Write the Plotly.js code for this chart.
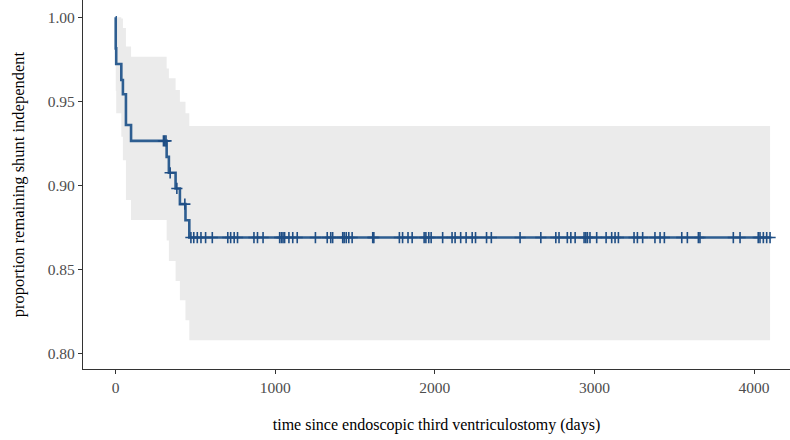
<!DOCTYPE html>
<html>
<head>
<meta charset="utf-8">
<script src="https://cdn.plot.ly/plotly-3.0.1.min.js"></script>
<style>
  html, body { margin: 0; padding: 0; background: #ffffff; }
  #chart { width: 790px; height: 440px; }
</style>
</head>
<body>
<div id="chart"></div>
<script>
// Kaplan-Meier estimate: step times (days) and survival level after each step
const stepTimes = [0, 1, 4, 36, 46, 65, 97, 320, 334, 376, 403, 438, 462, 4100];
const stepSurv  = [1.0, 0.9815, 0.9722, 0.9627, 0.9542, 0.9359, 0.9265, 0.9170, 0.9075, 0.8982, 0.8889, 0.8793, 0.8690, 0.8690];

// 95% confidence band over the same steps
const bandUpper = [1.0, 1.0, 1.0, 0.9993, 0.9937, 0.9826, 0.9765, 0.9696, 0.9637, 0.9567, 0.9498, 0.9429, 0.9353, 0.9353];
const bandLower = [1.0, 0.9563, 0.9429, 0.9289, 0.9150, 0.8913, 0.8794, 0.8673, 0.8551, 0.8432, 0.8317, 0.8198, 0.8079, 0.8079];

// censored follow-up times (days)
const censorTimes = [
  300, 308, 316, 342, 384, 434,
  472, 490, 512, 535, 564, 606, 703, 721, 743, 764, 867, 889, 924,
  1028, 1039, 1049, 1059, 1086, 1110, 1138, 1252, 1326, 1348, 1360,
  1423, 1432, 1445, 1461, 1482, 1611, 1618, 1778, 1798, 1832, 1858,
  1933, 1944, 1962, 1977, 2049, 2108, 2127, 2162, 2196, 2234, 2255,
  2324, 2354, 2534, 2664, 2758, 2778, 2830, 2852, 2879, 2935, 2946,
  2956, 2972, 3014, 3073, 3108, 3129, 3150, 3248, 3269, 3302, 3379,
  3411, 3438, 3547, 3582, 3651, 3661, 3870, 3912, 4026, 4037, 4058,
  4079, 4100
];

const xTicks = [0, 1000, 2000, 3000, 4000];
const yTicks = [0.80, 0.85, 0.90, 0.95, 1.00];

// survival level of the step curve in force at time t
function survAt(t) {
  let s = stepSurv[0];
  for (let i = 0; i < stepTimes.length; i++) {
    if (stepTimes[i] <= t) s = stepSurv[i]; else break;
  }
  return s;
}

const lineColor = '#2E5E91';
const serif = 'Liberation Serif, Times New Roman, serif';

const traces = [
  {
    x: stepTimes, y: bandLower, type: 'scatter', mode: 'lines',
    line: { shape: 'hv', width: 0, color: 'rgba(0,0,0,0)' },
    hoverinfo: 'skip', showlegend: false
  },
  {
    x: stepTimes, y: bandUpper, type: 'scatter', mode: 'lines',
    line: { shape: 'hv', width: 0, color: 'rgba(0,0,0,0)' },
    fill: 'tonexty', fillcolor: '#EBEBEB',
    hoverinfo: 'skip', showlegend: false
  },
  {
    x: stepTimes, y: stepSurv, type: 'scatter', mode: 'lines',
    line: { shape: 'hv', width: 2.6, color: lineColor },
    showlegend: false
  },
  {
    x: censorTimes, y: censorTimes.map(survAt), type: 'scatter', mode: 'markers',
    marker: { symbol: 'cross-thin', size: 8, line: { width: 1.6, color: '#1F4E85' }, color: '#1F4E85' },
    showlegend: false
  }
];

const layout = {
  width: 790, height: 440,
  margin: { l: 83, r: 0, t: 0, b: 71 },
  paper_bgcolor: '#ffffff', plot_bgcolor: '#ffffff',
  font: { family: serif, size: 15, color: '#000000' },
  xaxis: {
    range: [-204, 4225],
    tickvals: xTicks, ticktext: xTicks.map(String),
    ticks: 'outside', ticklen: 4, tickwidth: 1, tickcolor: '#333333',
    showline: true, linecolor: '#333333', linewidth: 1.1,
    showgrid: false, zeroline: false,
    tickfont: { family: serif, size: 15.5, color: '#4D4D4D' },
    title: { text: 'time since endoscopic third ventriculostomy (days)', standoff: 24,
             font: { family: serif, size: 16, color: '#000000' } }
  },
  yaxis: {
    range: [0.7908, 1.0103],
    tickvals: yTicks, ticktext: yTicks.map(v => v.toFixed(2)),
    ticks: 'outside', ticklen: 4, tickwidth: 1, tickcolor: '#333333',
    showline: true, linecolor: '#333333', linewidth: 1.1,
    showgrid: false, zeroline: false,
    tickfont: { family: serif, size: 15.5, color: '#4D4D4D' },
    title: { text: 'proportion remaining shunt independent', standoff: 18,
             font: { family: serif, size: 16.5, color: '#000000' } }
  }
};

Plotly.newPlot('chart', traces, layout, { displayModeBar: false, staticPlot: true });
</script>
</body>
</html>
